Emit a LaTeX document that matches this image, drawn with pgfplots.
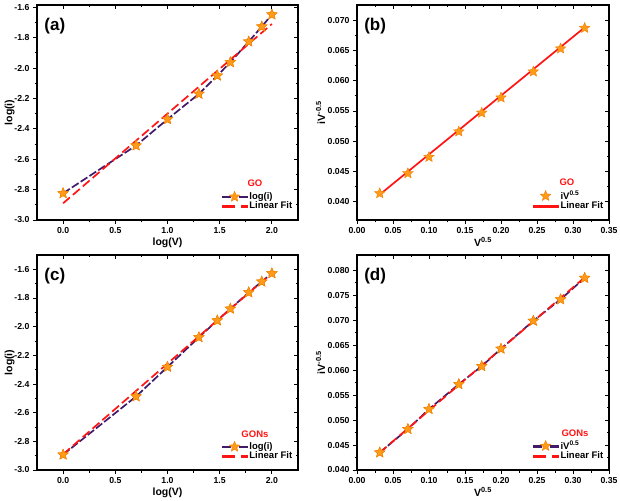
\documentclass[border=0pt]{standalone}
\usepackage{pgfplots}
\pgfplotsset{compat=1.18}
\usepackage{fontspec}
\setmainfont{Liberation Sans}
\definecolor{starO}{HTML}{FF9A1A}
\definecolor{starE}{HTML}{EE8100}
\definecolor{dpurp}{HTML}{421A6A}
\definecolor{fred}{HTML}{FF1414}

\pgfdeclareplotmark{fstar}{%
  \pgfpathmoveto{\pgfpointpolar{90}{\pgfplotmarksize}}%
  \pgfpathlineto{\pgfpointpolar{126}{0.45\pgfplotmarksize}}%
  \pgfpathlineto{\pgfpointpolar{162}{\pgfplotmarksize}}%
  \pgfpathlineto{\pgfpointpolar{198}{0.45\pgfplotmarksize}}%
  \pgfpathlineto{\pgfpointpolar{234}{\pgfplotmarksize}}%
  \pgfpathlineto{\pgfpointpolar{270}{0.45\pgfplotmarksize}}%
  \pgfpathlineto{\pgfpointpolar{306}{\pgfplotmarksize}}%
  \pgfpathlineto{\pgfpointpolar{342}{0.45\pgfplotmarksize}}%
  \pgfpathlineto{\pgfpointpolar{18}{\pgfplotmarksize}}%
  \pgfpathlineto{\pgfpointpolar{54}{0.45\pgfplotmarksize}}%
  \pgfpathclose
  \pgfusepathqfillstroke
}

\pgfplotstableread{
x y
0.000 -2.824
0.699 -2.510
1.000 -2.337
1.301 -2.170
1.477 -2.050
1.602 -1.962
1.778 -1.826
1.903 -1.727
2.000 -1.648
}\dataA
\pgfplotstableread{
x y
0.0316 0.0414
0.0707 0.0447
0.1000 0.0474
0.1414 0.0516
0.1732 0.0547
0.2000 0.0572
0.2449 0.0615
0.2828 0.0653
0.3162 0.0687
}\dataB
\pgfplotstableread{
x y
0.000 -2.893
0.699 -2.487
1.000 -2.281
1.301 -2.074
1.477 -1.957
1.602 -1.875
1.778 -1.761
1.903 -1.686
2.000 -1.628
}\dataC
\pgfplotstableread{
x y
0.0316 0.0435
0.0707 0.0482
0.1000 0.0522
0.1414 0.0572
0.1732 0.0608
0.2000 0.0643
0.2449 0.0699
0.2828 0.0742
0.3162 0.0785
}\dataD

\tikzset{
  datpl/.style={draw=dpurp, line width=1.7pt, dash pattern=on 8pt off 2.5pt,
    mark=fstar, mark size=5.5pt, mark options={solid, fill=starO, draw=starE, line width=0.4pt}},
  starpl/.style={only marks, mark=fstar, mark size=5.5pt, mark options={solid, fill=starO, draw=starE, line width=0.4pt}},
  fitdash/.style={draw=fred, line width=1.7pt, dash pattern=on 9pt off 4pt},
  fitsolid/.style={draw=fred, line width=1.7pt, solid},
}

\pgfplotsset{
  base/.style={scale only axis, anchor=south west,
    axis line style={line width=1.1pt},
    every tick/.style={black, line width=0.9pt},
    major tick length=4pt, minor tick length=2.5pt,
    minor tick num=1,
    tick label style={font=\bfseries\fontsize{8.7}{9}\selectfont},
    /pgf/number format/assume math mode=true,
    label style={font=\bfseries\fontsize{10.5}{12}\selectfont},
  },
  main/.style={base, tick align=outside, xtick pos=left, ytick pos=left,
    xlabel style={yshift=3pt},
    legend style={at={(0.99,0.03)}, anchor=south east, draw=none, fill=none,
      font=\bfseries\fontsize{9.5}{10}\selectfont, row sep=-3pt, inner sep=1pt},
    legend cell align=left,
  },
  purpleleg/.style={legend image code/.code={%
      \fill[dpurp] (0cm,-0.9pt) rectangle (8.5pt,0.9pt);
      \fill[dpurp] (17pt,-0.9pt) rectangle (25.5pt,0.9pt);
      \draw[mark repeat=2,mark phase=2,##1] plot coordinates {(0cm,0cm) (0.45cm,0cm) (0.9cm,0cm)};}},
  redleg/.style={legend image code/.code={%
      \fill[fred] (0pt,-0.9pt) rectangle (12pt,0.9pt);
      \fill[fred] (19.5pt,-0.9pt) rectangle (25.5pt,0.9pt);}},
  redsolidleg/.style={legend image code/.code={%
      \fill[fred] (0pt,-0.9pt) rectangle (25.5pt,0.9pt);}},
  starleg/.style={legend image code/.code={%
      \draw[mark repeat=2,mark phase=2,##1] plot coordinates {(0cm,0cm) (0.45cm,0cm) (0.9cm,0cm)};}},
  mirror/.style={base, tick align=inside, xtick pos=right, ytick pos=right,
    xticklabels={}, yticklabels={}},
  logax/.style={xmin=-0.25, xmax=2.25, ymin=-3.0,
    xtick={0,0.5,1,1.5,2}, ytick={-3,-2.8,-2.6,-2.4,-2.2,-2,-1.8,-1.6},
    xticklabel style={/pgf/number format/.cd,fixed,fixed zerofill,precision=1},
    yticklabel style={/pgf/number format/.cd,fixed,fixed zerofill,precision=1},
  },
  sqax/.style={xmin=0, xmax=0.35,
    xtick={0,0.05,0.1,0.15,0.2,0.25,0.3,0.35},
    xticklabel style={/pgf/number format/.cd,fixed,fixed zerofill,precision=2},
    yticklabel style={/pgf/number format/.cd,fixed,fixed zerofill,precision=3},
    scaled y ticks=false, scaled x ticks=false,
  },
  lefty/.style={ylabel style={at={(axis description cs:-0.105,0.5)}, anchor=center}},
  righty/.style={ylabel style={at={(axis description cs:-0.145,0.5)}, anchor=center}},
}

\begin{document}
\begin{tikzpicture}
\useasboundingbox (0,0) rectangle (620pt,500pt);

% (a)
\begin{axis}[main, logax, lefty, at={(37pt,280pt)}, width=261pt, height=215pt, ymax=-1.585,
  xlabel={log(V)}, ylabel={log(i)}]
\addlegendimage{/pgfplots/purpleleg, only marks, mark=fstar, mark size=5.5pt, mark options={solid, fill=starO, draw=starE, line width=0.4pt}}
\addlegendentry{log(i)}
\addlegendimage{/pgfplots/redleg}
\addlegendentry{Linear Fit}
\addplot[datpl, forget plot] table[x=x,y=y] {\dataA};
\addplot[fitdash, forget plot] coordinates {(0,-2.89) (2,-1.71)};
\addplot[starpl, forget plot] table[x=x,y=y] {\dataA};
\node[anchor=west, font=\bfseries\fontsize{17}{18}\selectfont] at (rel axis cs:0.015,0.9) {(a)};
\node[text=fred, font=\bfseries\fontsize{9.5}{10}\selectfont] at (rel axis cs:0.835,0.172) {GO};
\end{axis}
\begin{axis}[mirror, logax, at={(37pt,280pt)}, width=261pt, height=215pt, ymax=-1.585]
\end{axis}

% (b)
\begin{axis}[main, sqax, righty, at={(357pt,280pt)}, width=252pt, height=215pt,
  ymin=0.037, ymax=0.0725, ytick={0.04,0.045,0.05,0.055,0.06,0.065,0.07},
  xlabel={V\textsuperscript{0.5}}, ylabel={iV\textsuperscript{-0.5}}]
\addlegendimage{/pgfplots/starleg, only marks, mark=fstar, mark size=5.5pt, mark options={solid, fill=starO, draw=starE, line width=0.4pt}}
\addlegendentry{iV\textsuperscript{0.5}}
\addlegendimage{/pgfplots/redsolidleg}
\addlegendentry{Linear Fit}
\addplot[fitsolid, forget plot] coordinates {(0.0316,0.0412) (0.3162,0.0688)};
\addplot[starpl, forget plot] table[x=x,y=y] {\dataB};
\node[anchor=west, font=\bfseries\fontsize{17}{18}\selectfont] at (rel axis cs:0.015,0.9) {(b)};
\node[text=fred, font=\bfseries\fontsize{9.5}{10}\selectfont] at (rel axis cs:0.833,0.177) {GO};
\end{axis}
\begin{axis}[mirror, sqax, at={(357pt,280pt)}, width=252pt, height=215pt,
  ymin=0.037, ymax=0.0725, ytick={0.04,0.045,0.05,0.055,0.06,0.065,0.07}]
\end{axis}

% (c)
\begin{axis}[main, logax, lefty, at={(37pt,30pt)}, width=261pt, height=215pt, ymax=-1.5,
  xlabel={log(V)}, ylabel={log(i)}]
\addlegendimage{/pgfplots/purpleleg, only marks, mark=fstar, mark size=5.5pt, mark options={solid, fill=starO, draw=starE, line width=0.4pt}}
\addlegendentry{log(i)}
\addlegendimage{/pgfplots/redleg}
\addlegendentry{Linear Fit}
\addplot[datpl, forget plot] table[x=x,y=y] {\dataC};
\addplot[fitdash, forget plot] coordinates {(0,-2.89) (2,-1.625)};
\addplot[starpl, forget plot] table[x=x,y=y] {\dataC};
\node[anchor=west, font=\bfseries\fontsize{17}{18}\selectfont] at (rel axis cs:0.015,0.9) {(c)};
\node[text=fred, font=\bfseries\fontsize{9.5}{10}\selectfont] at (rel axis cs:0.835,0.165) {GONs};
\end{axis}
\begin{axis}[mirror, logax, at={(37pt,30pt)}, width=261pt, height=215pt, ymax=-1.5]
\end{axis}

% (d)
\begin{axis}[main, sqax, righty, at={(357pt,30pt)}, width=252pt, height=215pt,
  ymin=0.04, ymax=0.0831, ytick={0.04,0.045,0.05,0.055,0.06,0.065,0.07,0.075,0.08},
  xlabel={V\textsuperscript{0.5}}, ylabel={iV\textsuperscript{-0.5}}]
\addlegendimage{/pgfplots/purpleleg, only marks, mark=fstar, mark size=5.5pt, mark options={solid, fill=starO, draw=starE, line width=0.4pt}}
\addlegendentry{iV\textsuperscript{0.5}}
\addlegendimage{/pgfplots/redleg}
\addlegendentry{Linear Fit}
\addplot[datpl, forget plot] table[x=x,y=y] {\dataD};
\addplot[fitdash, forget plot] coordinates {(0.0316,0.0435) (0.3162,0.0786)};
\addplot[starpl, forget plot] table[x=x,y=y] {\dataD};
\node[anchor=west, font=\bfseries\fontsize{17}{18}\selectfont] at (rel axis cs:0.015,0.9) {(d)};
\node[text=fred, font=\bfseries\fontsize{9.5}{10}\selectfont] at (rel axis cs:0.865,0.172) {GONs};
\end{axis}
\begin{axis}[mirror, sqax, at={(357pt,30pt)}, width=252pt, height=215pt,
  ymin=0.04, ymax=0.0831, ytick={0.04,0.045,0.05,0.055,0.06,0.065,0.07,0.075,0.08}]
\end{axis}
\end{tikzpicture}
\end{document}
